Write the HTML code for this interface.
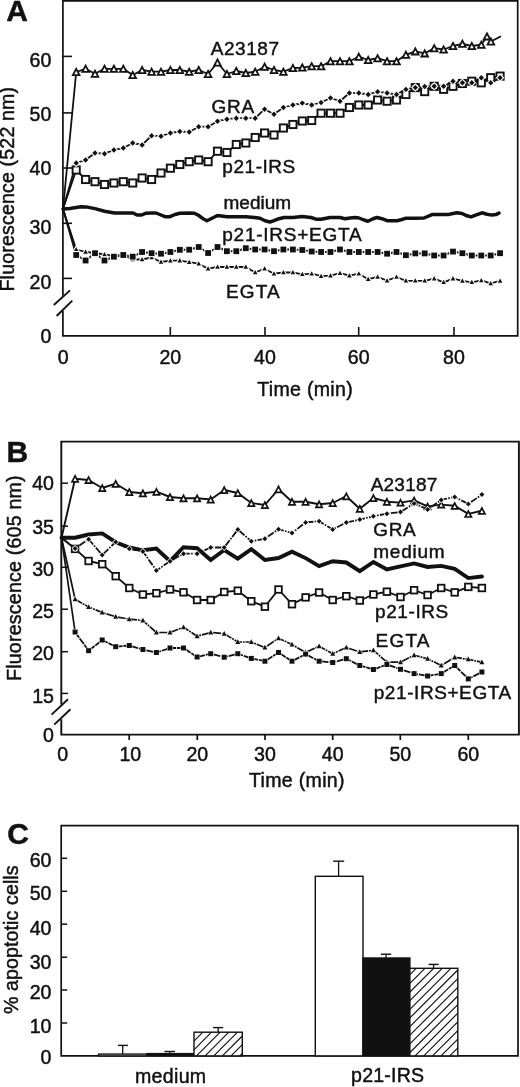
<!DOCTYPE html>
<html><head><meta charset="utf-8"><title>Figure</title>
<style>
html,body{margin:0;padding:0;background:#fff;}
text{stroke:#111;stroke-width:0.45px;}
svg{display:block;will-change:transform;font-family:"Liberation Sans",sans-serif;fill:#111;}
</style></head>
<body>
<svg width="520" height="1087" viewBox="0 0 520 1087">
<rect width="520" height="1087" fill="#fff"/>
<g id="A">
<path d="M62.9,295.8 V0.9 H517.7 V335.9 H62.9 V311" fill="none" stroke="#111" stroke-width="1.7" stroke-linejoin="miter"/>
<line x1="53.8" y1="305.0" x2="70.0" y2="290.4" stroke="#111" stroke-width="1.9"/>
<line x1="56.6" y1="316.0" x2="72.3" y2="300.6" stroke="#111" stroke-width="1.9"/>
<line x1="62.9" y1="56.4" x2="72.0" y2="56.4" stroke="#111" stroke-width="1.6"/>
<line x1="62.9" y1="112.9" x2="72.0" y2="112.9" stroke="#111" stroke-width="1.6"/>
<line x1="62.9" y1="168.0" x2="72.0" y2="168.0" stroke="#111" stroke-width="1.6"/>
<line x1="62.9" y1="223.3" x2="72.0" y2="223.3" stroke="#111" stroke-width="1.6"/>
<line x1="62.9" y1="278.4" x2="72.0" y2="278.4" stroke="#111" stroke-width="1.6"/>
<line x1="170.3" y1="335.9" x2="170.3" y2="327.0" stroke="#111" stroke-width="1.6"/>
<line x1="265.0" y1="335.9" x2="265.0" y2="327.0" stroke="#111" stroke-width="1.6"/>
<line x1="358.7" y1="335.9" x2="358.7" y2="327.0" stroke="#111" stroke-width="1.6"/>
<line x1="454.0" y1="335.9" x2="454.0" y2="327.0" stroke="#111" stroke-width="1.6"/>
<text transform="translate(51.3 66.8) scale(1 1.04)" font-size="19.6" text-anchor="end">60</text>
<text transform="translate(51.3 120.8) scale(1 1.04)" font-size="19.6" text-anchor="end">50</text>
<text transform="translate(51.3 175.4) scale(1 1.04)" font-size="19.6" text-anchor="end">40</text>
<text transform="translate(51.3 233.5) scale(1 1.04)" font-size="19.6" text-anchor="end">30</text>
<text transform="translate(51.3 288.5) scale(1 1.04)" font-size="19.6" text-anchor="end">20</text>
<text transform="translate(51.3 343.3) scale(1 1.04)" font-size="19.6" text-anchor="end">0</text>
<text transform="translate(63.3 364.2) scale(1 1.04)" font-size="19.6" text-anchor="middle">0</text>
<text transform="translate(170.3 364.2) scale(1 1.04)" font-size="19.6" text-anchor="middle">20</text>
<text transform="translate(265.0 364.2) scale(1 1.04)" font-size="19.6" text-anchor="middle">40</text>
<text transform="translate(358.7 364.2) scale(1 1.04)" font-size="19.6" text-anchor="middle">60</text>
<text transform="translate(454.0 364.2) scale(1 1.04)" font-size="19.6" text-anchor="middle">80</text>
<text transform="translate(305.0 395.8) scale(1 1.04)" font-size="19.6" text-anchor="middle" textLength="95.4" lengthAdjust="spacing">Time (min)</text>
<text transform="translate(14.3 291.5) rotate(-90) scale(1 1.04)" font-size="19.6" text-anchor="start" textLength="204.6" lengthAdjust="spacing">Fluorescence (522 nm)</text>
<text transform="translate(6.2 21.4) scale(1 1.0)" font-size="30" text-anchor="start" font-weight="bold">A</text>
<polyline points="63.0,209.0 76.2,72.0 85.6,68.8 95.0,73.8 104.5,68.8 113.9,68.8 123.3,68.8 132.7,75.0 142.1,70.0 151.6,71.7 161.0,71.7 170.4,70.0 179.8,70.0 189.2,71.7 198.7,70.0 208.1,74.0 217.5,62.5 226.9,74.0 236.3,71.0 245.8,73.0 255.2,71.7 264.6,66.7 274.0,70.0 283.4,71.7 292.9,68.0 302.3,67.6 311.7,66.2 321.1,66.2 330.5,61.2 340.0,61.2 349.4,61.2 358.8,56.7 368.2,60.0 377.6,58.2 387.1,61.2 396.5,61.2 405.9,54.8 415.3,51.4 424.7,53.4 434.2,48.2 443.6,49.5 453.0,46.0 462.4,43.8 471.8,46.0 481.3,44.7 487.0,36.4 490.9,41.5 501.0,36.2" fill="none" stroke="#111" stroke-width="1.8" stroke-linejoin="round" stroke-linecap="butt"/>
<polyline points="63.0,209.0 76.2,170.0 85.6,179.5 95.0,181.7 104.5,184.5 113.9,183.0 123.3,181.7 132.7,183.0 142.1,178.0 151.6,179.5 161.0,173.0 170.4,168.2 179.8,164.5 189.2,161.7 198.7,160.0 208.1,161.7 217.5,151.2 226.9,152.5 236.3,144.5 245.8,143.0 255.2,137.5 264.6,133.0 274.0,135.0 283.4,128.0 292.9,124.5 302.3,121.0 311.7,120.5 321.1,113.2 330.5,113.2 340.0,113.2 349.4,107.5 358.8,105.0 368.2,105.0 377.6,100.0 387.1,101.2 396.5,100.0 405.9,94.5 415.3,87.6 424.7,91.6 434.2,86.3 443.6,89.3 453.0,86.3 462.4,83.5 471.8,81.2 481.3,82.8 490.7,77.7 500.1,76.1" fill="none" stroke="#111" stroke-width="1.8" stroke-linejoin="round" stroke-linecap="butt"/>
<polyline points="63.0,209.0 76.2,163.0 85.6,160.0 95.0,153.0 104.5,153.7 113.9,150.0 123.3,148.0 132.7,143.0 142.1,145.0 151.6,135.7 161.0,136.2 170.4,133.0 179.8,131.5 189.2,132.0 198.7,126.7 208.1,126.7 217.5,121.2 226.9,119.2 236.3,118.2 245.8,118.2 255.2,118.2 264.6,109.2 274.0,114.2 283.4,107.5 292.9,105.0 302.3,103.1 311.7,105.0 321.1,102.5 330.5,98.0 340.0,101.2 349.4,93.0 358.8,93.0 368.2,94.5 377.6,91.7 387.1,93.0 396.5,94.5 405.9,89.4 415.3,87.6 424.7,86.5 434.2,86.3 443.6,86.3 453.0,81.2 462.4,82.8 471.8,82.8 481.3,77.7 490.7,82.8 500.1,77.7" fill="none" stroke="#111" stroke-width="1.8" stroke-linejoin="round" stroke-linecap="butt"/>
<polyline points="63.0,208.9 70.0,208.6 76.0,207.6 81.0,206.7 86.0,206.9 95.0,208.6 104.5,211.2 114.5,213.0 123.0,213.0 133.0,213.0 137.0,215.0 141.7,215.0 146.0,213.2 151.0,213.0 156.0,213.0 161.0,215.0 165.0,216.7 170.0,216.7 175.0,214.5 180.0,213.2 189.5,213.0 194.0,213.2 198.0,215.0 203.0,218.7 207.0,220.7 211.0,218.7 217.5,215.5 227.0,216.7 236.0,216.7 246.0,216.7 254.5,217.5 260.0,218.2 265.0,220.7 270.0,222.0 274.0,220.7 279.0,218.7 284.0,217.5 293.0,217.5 302.0,216.6 311.0,217.5 316.0,219.2 321.0,219.2 330.0,217.5 340.0,217.5 345.0,218.7 350.0,218.0 355.0,217.5 359.0,218.0 364.0,220.0 368.0,221.2 373.0,218.7 377.0,217.5 382.0,218.7 387.0,220.7 397.0,220.7 402.0,219.5 406.0,218.2 415.0,218.2 424.0,218.0 432.0,214.6 448.0,214.6 453.0,213.5 457.0,212.8 462.0,213.5 467.0,215.8 471.0,216.9 477.0,214.6 482.0,212.8 487.0,214.2 492.0,215.1 496.0,214.6 499.0,213.0" fill="none" stroke="#111" stroke-width="3.5" stroke-linejoin="round" stroke-linecap="round"/>
<polyline points="63.0,209.0 76.2,249.5 85.6,252.0 95.0,253.0 104.5,254.5 113.9,256.0 123.3,255.0 132.7,259.5 142.1,259.5 151.6,257.5 161.0,262.0 170.4,260.7 179.8,260.6 189.2,262.2 198.7,263.7 208.1,268.7 217.5,267.0 226.9,267.0 236.3,267.0 245.8,267.0 255.2,272.5 264.6,268.7 274.0,273.7 283.4,272.5 292.9,272.5 302.3,274.3 311.7,273.7 321.1,276.2 330.5,275.7 340.0,273.2 349.4,275.7 358.8,273.7 368.2,279.2 377.6,277.0 387.1,280.7 396.5,277.0 405.9,280.8 415.3,280.8 424.7,280.8 434.2,278.6 443.6,282.3 453.0,278.6 462.4,280.9 471.8,282.3 481.3,280.4 490.7,283.4 500.1,280.9" fill="none" stroke="#111" stroke-width="1.8" stroke-linejoin="round" stroke-linecap="butt"/>
<polyline points="63.0,209.0 76.2,255.0 85.6,260.5 95.0,253.2 104.5,260.5 113.9,256.7 123.3,255.0 132.7,256.7 142.1,252.0 151.6,253.2 161.0,253.7 170.4,252.0 179.8,249.8 189.2,249.7 198.7,247.0 208.1,253.0 217.5,247.0 226.9,251.2 236.3,251.2 245.8,248.2 255.2,249.5 264.6,249.5 274.0,251.2 283.4,249.5 292.9,249.5 302.3,250.0 311.7,251.5 321.1,252.0 330.5,252.0 340.0,249.5 349.4,252.0 358.8,252.0 368.2,252.0 377.6,252.0 387.1,253.7 396.5,252.0 405.9,255.2 415.3,253.4 424.7,253.4 434.2,255.5 443.6,255.5 453.0,251.6 462.4,253.2 471.8,255.5 481.3,255.5 490.7,255.5 500.1,253.2" fill="none" stroke="#111" stroke-width="2.0" stroke-linejoin="round" stroke-linecap="butt"/>
<polygon points="76.2,68.9 72.9,75.1 79.5,75.1" fill="#fff" stroke="#111" stroke-width="1.8" stroke-linejoin="miter"/>
<polygon points="85.6,65.7 82.3,71.9 88.9,71.9" fill="#fff" stroke="#111" stroke-width="1.8" stroke-linejoin="miter"/>
<polygon points="95.0,70.7 91.7,76.9 98.3,76.9" fill="#fff" stroke="#111" stroke-width="1.8" stroke-linejoin="miter"/>
<polygon points="104.5,65.7 101.2,71.9 107.8,71.9" fill="#fff" stroke="#111" stroke-width="1.8" stroke-linejoin="miter"/>
<polygon points="113.9,65.7 110.6,71.9 117.2,71.9" fill="#fff" stroke="#111" stroke-width="1.8" stroke-linejoin="miter"/>
<polygon points="123.3,65.7 120.0,71.9 126.6,71.9" fill="#fff" stroke="#111" stroke-width="1.8" stroke-linejoin="miter"/>
<polygon points="132.7,71.9 129.4,78.1 136.0,78.1" fill="#fff" stroke="#111" stroke-width="1.8" stroke-linejoin="miter"/>
<polygon points="142.1,66.9 138.8,73.1 145.4,73.1" fill="#fff" stroke="#111" stroke-width="1.8" stroke-linejoin="miter"/>
<polygon points="151.6,68.6 148.3,74.8 154.9,74.8" fill="#fff" stroke="#111" stroke-width="1.8" stroke-linejoin="miter"/>
<polygon points="161.0,68.6 157.7,74.8 164.3,74.8" fill="#fff" stroke="#111" stroke-width="1.8" stroke-linejoin="miter"/>
<polygon points="170.4,66.9 167.1,73.1 173.7,73.1" fill="#fff" stroke="#111" stroke-width="1.8" stroke-linejoin="miter"/>
<polygon points="179.8,66.9 176.5,73.1 183.1,73.1" fill="#fff" stroke="#111" stroke-width="1.8" stroke-linejoin="miter"/>
<polygon points="189.2,68.6 185.9,74.8 192.5,74.8" fill="#fff" stroke="#111" stroke-width="1.8" stroke-linejoin="miter"/>
<polygon points="198.7,66.9 195.4,73.1 202.0,73.1" fill="#fff" stroke="#111" stroke-width="1.8" stroke-linejoin="miter"/>
<polygon points="208.1,70.9 204.8,77.1 211.4,77.1" fill="#fff" stroke="#111" stroke-width="1.8" stroke-linejoin="miter"/>
<polygon points="217.5,59.4 214.2,65.6 220.8,65.6" fill="#fff" stroke="#111" stroke-width="1.8" stroke-linejoin="miter"/>
<polygon points="226.9,70.9 223.6,77.1 230.2,77.1" fill="#fff" stroke="#111" stroke-width="1.8" stroke-linejoin="miter"/>
<polygon points="236.3,67.9 233.0,74.1 239.6,74.1" fill="#fff" stroke="#111" stroke-width="1.8" stroke-linejoin="miter"/>
<polygon points="245.8,69.9 242.5,76.1 249.1,76.1" fill="#fff" stroke="#111" stroke-width="1.8" stroke-linejoin="miter"/>
<polygon points="255.2,68.6 251.9,74.8 258.5,74.8" fill="#fff" stroke="#111" stroke-width="1.8" stroke-linejoin="miter"/>
<polygon points="264.6,63.6 261.3,69.8 267.9,69.8" fill="#fff" stroke="#111" stroke-width="1.8" stroke-linejoin="miter"/>
<polygon points="274.0,66.9 270.7,73.1 277.3,73.1" fill="#fff" stroke="#111" stroke-width="1.8" stroke-linejoin="miter"/>
<polygon points="283.4,68.6 280.1,74.8 286.7,74.8" fill="#fff" stroke="#111" stroke-width="1.8" stroke-linejoin="miter"/>
<polygon points="292.9,64.9 289.6,71.1 296.2,71.1" fill="#fff" stroke="#111" stroke-width="1.8" stroke-linejoin="miter"/>
<polygon points="302.3,64.5 299.0,70.7 305.6,70.7" fill="#fff" stroke="#111" stroke-width="1.8" stroke-linejoin="miter"/>
<polygon points="311.7,63.1 308.4,69.3 315.0,69.3" fill="#fff" stroke="#111" stroke-width="1.8" stroke-linejoin="miter"/>
<polygon points="321.1,63.1 317.8,69.3 324.4,69.3" fill="#fff" stroke="#111" stroke-width="1.8" stroke-linejoin="miter"/>
<polygon points="330.5,58.1 327.2,64.3 333.8,64.3" fill="#fff" stroke="#111" stroke-width="1.8" stroke-linejoin="miter"/>
<polygon points="340.0,58.1 336.7,64.3 343.3,64.3" fill="#fff" stroke="#111" stroke-width="1.8" stroke-linejoin="miter"/>
<polygon points="349.4,58.1 346.1,64.3 352.7,64.3" fill="#fff" stroke="#111" stroke-width="1.8" stroke-linejoin="miter"/>
<polygon points="358.8,53.6 355.5,59.8 362.1,59.8" fill="#fff" stroke="#111" stroke-width="1.8" stroke-linejoin="miter"/>
<polygon points="368.2,56.9 364.9,63.1 371.5,63.1" fill="#fff" stroke="#111" stroke-width="1.8" stroke-linejoin="miter"/>
<polygon points="377.6,55.1 374.3,61.3 380.9,61.3" fill="#fff" stroke="#111" stroke-width="1.8" stroke-linejoin="miter"/>
<polygon points="387.1,58.1 383.8,64.3 390.4,64.3" fill="#fff" stroke="#111" stroke-width="1.8" stroke-linejoin="miter"/>
<polygon points="396.5,58.1 393.2,64.3 399.8,64.3" fill="#fff" stroke="#111" stroke-width="1.8" stroke-linejoin="miter"/>
<polygon points="405.9,51.7 402.6,57.9 409.2,57.9" fill="#fff" stroke="#111" stroke-width="1.8" stroke-linejoin="miter"/>
<polygon points="415.3,48.3 412.0,54.5 418.6,54.5" fill="#fff" stroke="#111" stroke-width="1.8" stroke-linejoin="miter"/>
<polygon points="424.7,50.3 421.4,56.5 428.0,56.5" fill="#fff" stroke="#111" stroke-width="1.8" stroke-linejoin="miter"/>
<polygon points="434.2,45.1 430.9,51.3 437.5,51.3" fill="#fff" stroke="#111" stroke-width="1.8" stroke-linejoin="miter"/>
<polygon points="443.6,46.4 440.3,52.6 446.9,52.6" fill="#fff" stroke="#111" stroke-width="1.8" stroke-linejoin="miter"/>
<polygon points="453.0,42.9 449.7,49.1 456.3,49.1" fill="#fff" stroke="#111" stroke-width="1.8" stroke-linejoin="miter"/>
<polygon points="462.4,40.7 459.1,46.9 465.7,46.9" fill="#fff" stroke="#111" stroke-width="1.8" stroke-linejoin="miter"/>
<polygon points="471.8,42.9 468.5,49.1 475.1,49.1" fill="#fff" stroke="#111" stroke-width="1.8" stroke-linejoin="miter"/>
<polygon points="481.3,41.6 478.0,47.8 484.6,47.8" fill="#fff" stroke="#111" stroke-width="1.8" stroke-linejoin="miter"/>
<polygon points="487.0,33.3 483.7,39.5 490.3,39.5" fill="#fff" stroke="#111" stroke-width="1.8" stroke-linejoin="miter"/>
<polygon points="490.9,38.4 487.6,44.6 494.2,44.6" fill="#fff" stroke="#111" stroke-width="1.8" stroke-linejoin="miter"/>
<rect x="72.6" y="166.4" width="7.2" height="7.2" fill="#fff" stroke="#111" stroke-width="1.9"/>
<rect x="82.0" y="175.9" width="7.2" height="7.2" fill="#fff" stroke="#111" stroke-width="1.9"/>
<rect x="91.4" y="178.1" width="7.2" height="7.2" fill="#fff" stroke="#111" stroke-width="1.9"/>
<rect x="100.9" y="180.9" width="7.2" height="7.2" fill="#fff" stroke="#111" stroke-width="1.9"/>
<rect x="110.3" y="179.4" width="7.2" height="7.2" fill="#fff" stroke="#111" stroke-width="1.9"/>
<rect x="119.7" y="178.1" width="7.2" height="7.2" fill="#fff" stroke="#111" stroke-width="1.9"/>
<rect x="129.1" y="179.4" width="7.2" height="7.2" fill="#fff" stroke="#111" stroke-width="1.9"/>
<rect x="138.5" y="174.4" width="7.2" height="7.2" fill="#fff" stroke="#111" stroke-width="1.9"/>
<rect x="148.0" y="175.9" width="7.2" height="7.2" fill="#fff" stroke="#111" stroke-width="1.9"/>
<rect x="157.4" y="169.4" width="7.2" height="7.2" fill="#fff" stroke="#111" stroke-width="1.9"/>
<rect x="166.8" y="164.6" width="7.2" height="7.2" fill="#fff" stroke="#111" stroke-width="1.9"/>
<rect x="176.2" y="160.9" width="7.2" height="7.2" fill="#fff" stroke="#111" stroke-width="1.9"/>
<rect x="185.6" y="158.1" width="7.2" height="7.2" fill="#fff" stroke="#111" stroke-width="1.9"/>
<rect x="195.1" y="156.4" width="7.2" height="7.2" fill="#fff" stroke="#111" stroke-width="1.9"/>
<rect x="204.5" y="158.1" width="7.2" height="7.2" fill="#fff" stroke="#111" stroke-width="1.9"/>
<rect x="213.9" y="147.6" width="7.2" height="7.2" fill="#fff" stroke="#111" stroke-width="1.9"/>
<rect x="223.3" y="148.9" width="7.2" height="7.2" fill="#fff" stroke="#111" stroke-width="1.9"/>
<rect x="232.7" y="140.9" width="7.2" height="7.2" fill="#fff" stroke="#111" stroke-width="1.9"/>
<rect x="242.2" y="139.4" width="7.2" height="7.2" fill="#fff" stroke="#111" stroke-width="1.9"/>
<rect x="251.6" y="133.9" width="7.2" height="7.2" fill="#fff" stroke="#111" stroke-width="1.9"/>
<rect x="261.0" y="129.4" width="7.2" height="7.2" fill="#fff" stroke="#111" stroke-width="1.9"/>
<rect x="270.4" y="131.4" width="7.2" height="7.2" fill="#fff" stroke="#111" stroke-width="1.9"/>
<rect x="279.8" y="124.4" width="7.2" height="7.2" fill="#fff" stroke="#111" stroke-width="1.9"/>
<rect x="289.3" y="120.9" width="7.2" height="7.2" fill="#fff" stroke="#111" stroke-width="1.9"/>
<rect x="298.7" y="117.4" width="7.2" height="7.2" fill="#fff" stroke="#111" stroke-width="1.9"/>
<rect x="308.1" y="116.9" width="7.2" height="7.2" fill="#fff" stroke="#111" stroke-width="1.9"/>
<rect x="317.5" y="109.6" width="7.2" height="7.2" fill="#fff" stroke="#111" stroke-width="1.9"/>
<rect x="326.9" y="109.6" width="7.2" height="7.2" fill="#fff" stroke="#111" stroke-width="1.9"/>
<rect x="336.4" y="109.6" width="7.2" height="7.2" fill="#fff" stroke="#111" stroke-width="1.9"/>
<rect x="345.8" y="103.9" width="7.2" height="7.2" fill="#fff" stroke="#111" stroke-width="1.9"/>
<rect x="355.2" y="101.4" width="7.2" height="7.2" fill="#fff" stroke="#111" stroke-width="1.9"/>
<rect x="364.6" y="101.4" width="7.2" height="7.2" fill="#fff" stroke="#111" stroke-width="1.9"/>
<rect x="374.0" y="96.4" width="7.2" height="7.2" fill="#fff" stroke="#111" stroke-width="1.9"/>
<rect x="383.5" y="97.6" width="7.2" height="7.2" fill="#fff" stroke="#111" stroke-width="1.9"/>
<rect x="392.9" y="96.4" width="7.2" height="7.2" fill="#fff" stroke="#111" stroke-width="1.9"/>
<rect x="402.3" y="90.9" width="7.2" height="7.2" fill="#fff" stroke="#111" stroke-width="1.9"/>
<rect x="411.7" y="84.0" width="7.2" height="7.2" fill="#fff" stroke="#111" stroke-width="1.9"/>
<rect x="421.1" y="88.0" width="7.2" height="7.2" fill="#fff" stroke="#111" stroke-width="1.9"/>
<rect x="430.6" y="82.7" width="7.2" height="7.2" fill="#fff" stroke="#111" stroke-width="1.9"/>
<rect x="440.0" y="85.7" width="7.2" height="7.2" fill="#fff" stroke="#111" stroke-width="1.9"/>
<rect x="449.4" y="82.7" width="7.2" height="7.2" fill="#fff" stroke="#111" stroke-width="1.9"/>
<rect x="458.8" y="79.9" width="7.2" height="7.2" fill="#fff" stroke="#111" stroke-width="1.9"/>
<rect x="468.2" y="77.6" width="7.2" height="7.2" fill="#fff" stroke="#111" stroke-width="1.9"/>
<rect x="477.7" y="79.2" width="7.2" height="7.2" fill="#fff" stroke="#111" stroke-width="1.9"/>
<rect x="487.1" y="74.1" width="7.2" height="7.2" fill="#fff" stroke="#111" stroke-width="1.9"/>
<rect x="496.5" y="72.5" width="7.2" height="7.2" fill="#fff" stroke="#111" stroke-width="1.9"/>
<polygon points="76.2,160.3 78.9,163.0 76.2,165.7 73.5,163.0" fill="#111" stroke="#fff" stroke-width="2.2" paint-order="stroke"/>
<polygon points="85.6,157.3 88.3,160.0 85.6,162.7 82.9,160.0" fill="#111" stroke="#fff" stroke-width="2.2" paint-order="stroke"/>
<polygon points="95.0,150.3 97.7,153.0 95.0,155.7 92.3,153.0" fill="#111" stroke="#fff" stroke-width="2.2" paint-order="stroke"/>
<polygon points="104.5,151.0 107.2,153.7 104.5,156.4 101.8,153.7" fill="#111" stroke="#fff" stroke-width="2.2" paint-order="stroke"/>
<polygon points="113.9,147.3 116.6,150.0 113.9,152.7 111.2,150.0" fill="#111" stroke="#fff" stroke-width="2.2" paint-order="stroke"/>
<polygon points="123.3,145.3 126.0,148.0 123.3,150.7 120.6,148.0" fill="#111" stroke="#fff" stroke-width="2.2" paint-order="stroke"/>
<polygon points="132.7,140.3 135.4,143.0 132.7,145.7 130.0,143.0" fill="#111" stroke="#fff" stroke-width="2.2" paint-order="stroke"/>
<polygon points="142.1,142.3 144.8,145.0 142.1,147.7 139.4,145.0" fill="#111" stroke="#fff" stroke-width="2.2" paint-order="stroke"/>
<polygon points="151.6,133.0 154.3,135.7 151.6,138.4 148.9,135.7" fill="#111" stroke="#fff" stroke-width="2.2" paint-order="stroke"/>
<polygon points="161.0,133.5 163.7,136.2 161.0,138.9 158.3,136.2" fill="#111" stroke="#fff" stroke-width="2.2" paint-order="stroke"/>
<polygon points="170.4,130.3 173.1,133.0 170.4,135.7 167.7,133.0" fill="#111" stroke="#fff" stroke-width="2.2" paint-order="stroke"/>
<polygon points="179.8,128.8 182.5,131.5 179.8,134.2 177.1,131.5" fill="#111" stroke="#fff" stroke-width="2.2" paint-order="stroke"/>
<polygon points="189.2,129.3 191.9,132.0 189.2,134.7 186.5,132.0" fill="#111" stroke="#fff" stroke-width="2.2" paint-order="stroke"/>
<polygon points="198.7,124.0 201.4,126.7 198.7,129.4 196.0,126.7" fill="#111" stroke="#fff" stroke-width="2.2" paint-order="stroke"/>
<polygon points="208.1,124.0 210.8,126.7 208.1,129.4 205.4,126.7" fill="#111" stroke="#fff" stroke-width="2.2" paint-order="stroke"/>
<polygon points="217.5,118.5 220.2,121.2 217.5,123.9 214.8,121.2" fill="#111" stroke="#fff" stroke-width="2.2" paint-order="stroke"/>
<polygon points="226.9,116.5 229.6,119.2 226.9,121.9 224.2,119.2" fill="#111" stroke="#fff" stroke-width="2.2" paint-order="stroke"/>
<polygon points="236.3,115.5 239.0,118.2 236.3,120.9 233.6,118.2" fill="#111" stroke="#fff" stroke-width="2.2" paint-order="stroke"/>
<polygon points="245.8,115.5 248.5,118.2 245.8,120.9 243.1,118.2" fill="#111" stroke="#fff" stroke-width="2.2" paint-order="stroke"/>
<polygon points="255.2,115.5 257.9,118.2 255.2,120.9 252.5,118.2" fill="#111" stroke="#fff" stroke-width="2.2" paint-order="stroke"/>
<polygon points="264.6,106.5 267.3,109.2 264.6,111.9 261.9,109.2" fill="#111" stroke="#fff" stroke-width="2.2" paint-order="stroke"/>
<polygon points="274.0,111.5 276.7,114.2 274.0,116.9 271.3,114.2" fill="#111" stroke="#fff" stroke-width="2.2" paint-order="stroke"/>
<polygon points="283.4,104.8 286.1,107.5 283.4,110.2 280.7,107.5" fill="#111" stroke="#fff" stroke-width="2.2" paint-order="stroke"/>
<polygon points="292.9,102.3 295.6,105.0 292.9,107.7 290.2,105.0" fill="#111" stroke="#fff" stroke-width="2.2" paint-order="stroke"/>
<polygon points="302.3,100.4 305.0,103.1 302.3,105.8 299.6,103.1" fill="#111" stroke="#fff" stroke-width="2.2" paint-order="stroke"/>
<polygon points="311.7,102.3 314.4,105.0 311.7,107.7 309.0,105.0" fill="#111" stroke="#fff" stroke-width="2.2" paint-order="stroke"/>
<polygon points="321.1,99.8 323.8,102.5 321.1,105.2 318.4,102.5" fill="#111" stroke="#fff" stroke-width="2.2" paint-order="stroke"/>
<polygon points="330.5,95.3 333.2,98.0 330.5,100.7 327.8,98.0" fill="#111" stroke="#fff" stroke-width="2.2" paint-order="stroke"/>
<polygon points="340.0,98.5 342.7,101.2 340.0,103.9 337.3,101.2" fill="#111" stroke="#fff" stroke-width="2.2" paint-order="stroke"/>
<polygon points="349.4,90.3 352.1,93.0 349.4,95.7 346.7,93.0" fill="#111" stroke="#fff" stroke-width="2.2" paint-order="stroke"/>
<polygon points="358.8,90.3 361.5,93.0 358.8,95.7 356.1,93.0" fill="#111" stroke="#fff" stroke-width="2.2" paint-order="stroke"/>
<polygon points="368.2,91.8 370.9,94.5 368.2,97.2 365.5,94.5" fill="#111" stroke="#fff" stroke-width="2.2" paint-order="stroke"/>
<polygon points="377.6,89.0 380.3,91.7 377.6,94.4 374.9,91.7" fill="#111" stroke="#fff" stroke-width="2.2" paint-order="stroke"/>
<polygon points="387.1,90.3 389.8,93.0 387.1,95.7 384.4,93.0" fill="#111" stroke="#fff" stroke-width="2.2" paint-order="stroke"/>
<polygon points="396.5,91.8 399.2,94.5 396.5,97.2 393.8,94.5" fill="#111" stroke="#fff" stroke-width="2.2" paint-order="stroke"/>
<polygon points="405.9,86.7 408.6,89.4 405.9,92.1 403.2,89.4" fill="#111" stroke="#fff" stroke-width="2.2" paint-order="stroke"/>
<polygon points="415.3,84.9 418.0,87.6 415.3,90.3 412.6,87.6" fill="#111" stroke="#fff" stroke-width="2.2" paint-order="stroke"/>
<polygon points="424.7,83.8 427.4,86.5 424.7,89.2 422.0,86.5" fill="#111" stroke="#fff" stroke-width="2.2" paint-order="stroke"/>
<polygon points="434.2,83.6 436.9,86.3 434.2,89.0 431.5,86.3" fill="#111" stroke="#fff" stroke-width="2.2" paint-order="stroke"/>
<polygon points="443.6,83.6 446.3,86.3 443.6,89.0 440.9,86.3" fill="#111" stroke="#fff" stroke-width="2.2" paint-order="stroke"/>
<polygon points="453.0,78.5 455.7,81.2 453.0,83.9 450.3,81.2" fill="#111" stroke="#fff" stroke-width="2.2" paint-order="stroke"/>
<polygon points="462.4,80.1 465.1,82.8 462.4,85.5 459.7,82.8" fill="#111" stroke="#fff" stroke-width="2.2" paint-order="stroke"/>
<polygon points="471.8,80.1 474.5,82.8 471.8,85.5 469.1,82.8" fill="#111" stroke="#fff" stroke-width="2.2" paint-order="stroke"/>
<polygon points="481.3,75.0 484.0,77.7 481.3,80.4 478.6,77.7" fill="#111" stroke="#fff" stroke-width="2.2" paint-order="stroke"/>
<polygon points="490.7,80.1 493.4,82.8 490.7,85.5 488.0,82.8" fill="#111" stroke="#fff" stroke-width="2.2" paint-order="stroke"/>
<polygon points="500.1,75.0 502.8,77.7 500.1,80.4 497.4,77.7" fill="#111" stroke="#fff" stroke-width="2.2" paint-order="stroke"/>
<polygon points="76.2,247.0 73.9,251.3 78.5,251.3" fill="#111" stroke="#fff" stroke-width="2.2" paint-order="stroke"/>
<polygon points="85.6,249.5 83.3,253.8 87.9,253.8" fill="#111" stroke="#fff" stroke-width="2.2" paint-order="stroke"/>
<polygon points="95.0,250.5 92.7,254.8 97.3,254.8" fill="#111" stroke="#fff" stroke-width="2.2" paint-order="stroke"/>
<polygon points="104.5,252.0 102.2,256.3 106.8,256.3" fill="#111" stroke="#fff" stroke-width="2.2" paint-order="stroke"/>
<polygon points="113.9,253.5 111.6,257.8 116.2,257.8" fill="#111" stroke="#fff" stroke-width="2.2" paint-order="stroke"/>
<polygon points="123.3,252.5 121.0,256.8 125.6,256.8" fill="#111" stroke="#fff" stroke-width="2.2" paint-order="stroke"/>
<polygon points="132.7,257.0 130.4,261.3 135.0,261.3" fill="#111" stroke="#fff" stroke-width="2.2" paint-order="stroke"/>
<polygon points="142.1,257.0 139.8,261.3 144.4,261.3" fill="#111" stroke="#fff" stroke-width="2.2" paint-order="stroke"/>
<polygon points="151.6,255.0 149.3,259.3 153.9,259.3" fill="#111" stroke="#fff" stroke-width="2.2" paint-order="stroke"/>
<polygon points="161.0,259.5 158.7,263.8 163.3,263.8" fill="#111" stroke="#fff" stroke-width="2.2" paint-order="stroke"/>
<polygon points="170.4,258.2 168.1,262.5 172.7,262.5" fill="#111" stroke="#fff" stroke-width="2.2" paint-order="stroke"/>
<polygon points="179.8,258.1 177.5,262.4 182.1,262.4" fill="#111" stroke="#fff" stroke-width="2.2" paint-order="stroke"/>
<polygon points="189.2,259.7 186.9,264.0 191.5,264.0" fill="#111" stroke="#fff" stroke-width="2.2" paint-order="stroke"/>
<polygon points="198.7,261.2 196.4,265.5 201.0,265.5" fill="#111" stroke="#fff" stroke-width="2.2" paint-order="stroke"/>
<polygon points="208.1,266.2 205.8,270.5 210.4,270.5" fill="#111" stroke="#fff" stroke-width="2.2" paint-order="stroke"/>
<polygon points="217.5,264.5 215.2,268.8 219.8,268.8" fill="#111" stroke="#fff" stroke-width="2.2" paint-order="stroke"/>
<polygon points="226.9,264.5 224.6,268.8 229.2,268.8" fill="#111" stroke="#fff" stroke-width="2.2" paint-order="stroke"/>
<polygon points="236.3,264.5 234.0,268.8 238.6,268.8" fill="#111" stroke="#fff" stroke-width="2.2" paint-order="stroke"/>
<polygon points="245.8,264.5 243.5,268.8 248.1,268.8" fill="#111" stroke="#fff" stroke-width="2.2" paint-order="stroke"/>
<polygon points="255.2,270.0 252.9,274.3 257.5,274.3" fill="#111" stroke="#fff" stroke-width="2.2" paint-order="stroke"/>
<polygon points="264.6,266.2 262.3,270.5 266.9,270.5" fill="#111" stroke="#fff" stroke-width="2.2" paint-order="stroke"/>
<polygon points="274.0,271.2 271.7,275.5 276.3,275.5" fill="#111" stroke="#fff" stroke-width="2.2" paint-order="stroke"/>
<polygon points="283.4,270.0 281.1,274.3 285.7,274.3" fill="#111" stroke="#fff" stroke-width="2.2" paint-order="stroke"/>
<polygon points="292.9,270.0 290.6,274.3 295.2,274.3" fill="#111" stroke="#fff" stroke-width="2.2" paint-order="stroke"/>
<polygon points="302.3,271.8 300.0,276.1 304.6,276.1" fill="#111" stroke="#fff" stroke-width="2.2" paint-order="stroke"/>
<polygon points="311.7,271.2 309.4,275.5 314.0,275.5" fill="#111" stroke="#fff" stroke-width="2.2" paint-order="stroke"/>
<polygon points="321.1,273.7 318.8,278.0 323.4,278.0" fill="#111" stroke="#fff" stroke-width="2.2" paint-order="stroke"/>
<polygon points="330.5,273.2 328.2,277.5 332.8,277.5" fill="#111" stroke="#fff" stroke-width="2.2" paint-order="stroke"/>
<polygon points="340.0,270.7 337.7,275.0 342.3,275.0" fill="#111" stroke="#fff" stroke-width="2.2" paint-order="stroke"/>
<polygon points="349.4,273.2 347.1,277.5 351.7,277.5" fill="#111" stroke="#fff" stroke-width="2.2" paint-order="stroke"/>
<polygon points="358.8,271.2 356.5,275.5 361.1,275.5" fill="#111" stroke="#fff" stroke-width="2.2" paint-order="stroke"/>
<polygon points="368.2,276.7 365.9,281.0 370.5,281.0" fill="#111" stroke="#fff" stroke-width="2.2" paint-order="stroke"/>
<polygon points="377.6,274.5 375.3,278.8 379.9,278.8" fill="#111" stroke="#fff" stroke-width="2.2" paint-order="stroke"/>
<polygon points="387.1,278.2 384.8,282.5 389.4,282.5" fill="#111" stroke="#fff" stroke-width="2.2" paint-order="stroke"/>
<polygon points="396.5,274.5 394.2,278.8 398.8,278.8" fill="#111" stroke="#fff" stroke-width="2.2" paint-order="stroke"/>
<polygon points="405.9,278.3 403.6,282.6 408.2,282.6" fill="#111" stroke="#fff" stroke-width="2.2" paint-order="stroke"/>
<polygon points="415.3,278.3 413.0,282.6 417.6,282.6" fill="#111" stroke="#fff" stroke-width="2.2" paint-order="stroke"/>
<polygon points="424.7,278.3 422.4,282.6 427.0,282.6" fill="#111" stroke="#fff" stroke-width="2.2" paint-order="stroke"/>
<polygon points="434.2,276.1 431.9,280.4 436.5,280.4" fill="#111" stroke="#fff" stroke-width="2.2" paint-order="stroke"/>
<polygon points="443.6,279.8 441.3,284.1 445.9,284.1" fill="#111" stroke="#fff" stroke-width="2.2" paint-order="stroke"/>
<polygon points="453.0,276.1 450.7,280.4 455.3,280.4" fill="#111" stroke="#fff" stroke-width="2.2" paint-order="stroke"/>
<polygon points="462.4,278.4 460.1,282.7 464.7,282.7" fill="#111" stroke="#fff" stroke-width="2.2" paint-order="stroke"/>
<polygon points="471.8,279.8 469.5,284.1 474.1,284.1" fill="#111" stroke="#fff" stroke-width="2.2" paint-order="stroke"/>
<polygon points="481.3,277.9 479.0,282.2 483.6,282.2" fill="#111" stroke="#fff" stroke-width="2.2" paint-order="stroke"/>
<polygon points="490.7,280.9 488.4,285.2 493.0,285.2" fill="#111" stroke="#fff" stroke-width="2.2" paint-order="stroke"/>
<polygon points="500.1,278.4 497.8,282.7 502.4,282.7" fill="#111" stroke="#fff" stroke-width="2.2" paint-order="stroke"/>
<rect x="73.3" y="252.1" width="5.8" height="5.8" fill="#111" stroke="#fff" stroke-width="2.0" paint-order="stroke"/>
<rect x="82.7" y="257.6" width="5.8" height="5.8" fill="#111" stroke="#fff" stroke-width="2.0" paint-order="stroke"/>
<rect x="92.1" y="250.3" width="5.8" height="5.8" fill="#111" stroke="#fff" stroke-width="2.0" paint-order="stroke"/>
<rect x="101.6" y="257.6" width="5.8" height="5.8" fill="#111" stroke="#fff" stroke-width="2.0" paint-order="stroke"/>
<rect x="111.0" y="253.8" width="5.8" height="5.8" fill="#111" stroke="#fff" stroke-width="2.0" paint-order="stroke"/>
<rect x="120.4" y="252.1" width="5.8" height="5.8" fill="#111" stroke="#fff" stroke-width="2.0" paint-order="stroke"/>
<rect x="129.8" y="253.8" width="5.8" height="5.8" fill="#111" stroke="#fff" stroke-width="2.0" paint-order="stroke"/>
<rect x="139.2" y="249.1" width="5.8" height="5.8" fill="#111" stroke="#fff" stroke-width="2.0" paint-order="stroke"/>
<rect x="148.7" y="250.3" width="5.8" height="5.8" fill="#111" stroke="#fff" stroke-width="2.0" paint-order="stroke"/>
<rect x="158.1" y="250.8" width="5.8" height="5.8" fill="#111" stroke="#fff" stroke-width="2.0" paint-order="stroke"/>
<rect x="167.5" y="249.1" width="5.8" height="5.8" fill="#111" stroke="#fff" stroke-width="2.0" paint-order="stroke"/>
<rect x="176.9" y="246.9" width="5.8" height="5.8" fill="#111" stroke="#fff" stroke-width="2.0" paint-order="stroke"/>
<rect x="186.3" y="246.8" width="5.8" height="5.8" fill="#111" stroke="#fff" stroke-width="2.0" paint-order="stroke"/>
<rect x="195.8" y="244.1" width="5.8" height="5.8" fill="#111" stroke="#fff" stroke-width="2.0" paint-order="stroke"/>
<rect x="205.2" y="250.1" width="5.8" height="5.8" fill="#111" stroke="#fff" stroke-width="2.0" paint-order="stroke"/>
<rect x="214.6" y="244.1" width="5.8" height="5.8" fill="#111" stroke="#fff" stroke-width="2.0" paint-order="stroke"/>
<rect x="224.0" y="248.3" width="5.8" height="5.8" fill="#111" stroke="#fff" stroke-width="2.0" paint-order="stroke"/>
<rect x="233.4" y="248.3" width="5.8" height="5.8" fill="#111" stroke="#fff" stroke-width="2.0" paint-order="stroke"/>
<rect x="242.9" y="245.3" width="5.8" height="5.8" fill="#111" stroke="#fff" stroke-width="2.0" paint-order="stroke"/>
<rect x="252.3" y="246.6" width="5.8" height="5.8" fill="#111" stroke="#fff" stroke-width="2.0" paint-order="stroke"/>
<rect x="261.7" y="246.6" width="5.8" height="5.8" fill="#111" stroke="#fff" stroke-width="2.0" paint-order="stroke"/>
<rect x="271.1" y="248.3" width="5.8" height="5.8" fill="#111" stroke="#fff" stroke-width="2.0" paint-order="stroke"/>
<rect x="280.5" y="246.6" width="5.8" height="5.8" fill="#111" stroke="#fff" stroke-width="2.0" paint-order="stroke"/>
<rect x="290.0" y="246.6" width="5.8" height="5.8" fill="#111" stroke="#fff" stroke-width="2.0" paint-order="stroke"/>
<rect x="299.4" y="247.1" width="5.8" height="5.8" fill="#111" stroke="#fff" stroke-width="2.0" paint-order="stroke"/>
<rect x="308.8" y="248.6" width="5.8" height="5.8" fill="#111" stroke="#fff" stroke-width="2.0" paint-order="stroke"/>
<rect x="318.2" y="249.1" width="5.8" height="5.8" fill="#111" stroke="#fff" stroke-width="2.0" paint-order="stroke"/>
<rect x="327.6" y="249.1" width="5.8" height="5.8" fill="#111" stroke="#fff" stroke-width="2.0" paint-order="stroke"/>
<rect x="337.1" y="246.6" width="5.8" height="5.8" fill="#111" stroke="#fff" stroke-width="2.0" paint-order="stroke"/>
<rect x="346.5" y="249.1" width="5.8" height="5.8" fill="#111" stroke="#fff" stroke-width="2.0" paint-order="stroke"/>
<rect x="355.9" y="249.1" width="5.8" height="5.8" fill="#111" stroke="#fff" stroke-width="2.0" paint-order="stroke"/>
<rect x="365.3" y="249.1" width="5.8" height="5.8" fill="#111" stroke="#fff" stroke-width="2.0" paint-order="stroke"/>
<rect x="374.7" y="249.1" width="5.8" height="5.8" fill="#111" stroke="#fff" stroke-width="2.0" paint-order="stroke"/>
<rect x="384.2" y="250.8" width="5.8" height="5.8" fill="#111" stroke="#fff" stroke-width="2.0" paint-order="stroke"/>
<rect x="393.6" y="249.1" width="5.8" height="5.8" fill="#111" stroke="#fff" stroke-width="2.0" paint-order="stroke"/>
<rect x="403.0" y="252.3" width="5.8" height="5.8" fill="#111" stroke="#fff" stroke-width="2.0" paint-order="stroke"/>
<rect x="412.4" y="250.5" width="5.8" height="5.8" fill="#111" stroke="#fff" stroke-width="2.0" paint-order="stroke"/>
<rect x="421.8" y="250.5" width="5.8" height="5.8" fill="#111" stroke="#fff" stroke-width="2.0" paint-order="stroke"/>
<rect x="431.3" y="252.6" width="5.8" height="5.8" fill="#111" stroke="#fff" stroke-width="2.0" paint-order="stroke"/>
<rect x="440.7" y="252.6" width="5.8" height="5.8" fill="#111" stroke="#fff" stroke-width="2.0" paint-order="stroke"/>
<rect x="450.1" y="248.7" width="5.8" height="5.8" fill="#111" stroke="#fff" stroke-width="2.0" paint-order="stroke"/>
<rect x="459.5" y="250.3" width="5.8" height="5.8" fill="#111" stroke="#fff" stroke-width="2.0" paint-order="stroke"/>
<rect x="468.9" y="252.6" width="5.8" height="5.8" fill="#111" stroke="#fff" stroke-width="2.0" paint-order="stroke"/>
<rect x="478.4" y="252.6" width="5.8" height="5.8" fill="#111" stroke="#fff" stroke-width="2.0" paint-order="stroke"/>
<rect x="487.8" y="252.6" width="5.8" height="5.8" fill="#111" stroke="#fff" stroke-width="2.0" paint-order="stroke"/>
<rect x="497.2" y="250.3" width="5.8" height="5.8" fill="#111" stroke="#fff" stroke-width="2.0" paint-order="stroke"/>
<text transform="translate(210.7 54.6) scale(1 1.0)" font-size="19.0" text-anchor="start" textLength="68.3" lengthAdjust="spacing">A23187</text>
<text transform="translate(211.5 112.6) scale(1 1.0)" font-size="19.0" text-anchor="start" textLength="42.6" lengthAdjust="spacing">GRA</text>
<text transform="translate(222.3 173.3) scale(1 1.0)" font-size="19.0" text-anchor="start" textLength="73" lengthAdjust="spacing">p21-IRS</text>
<text transform="translate(223.5 208.8) scale(1 1.0)" font-size="19.0" text-anchor="start" textLength="67.6" lengthAdjust="spacing">medium</text>
<text transform="translate(222.3 241.3) scale(1 1.0)" font-size="19.0" text-anchor="start" textLength="139.4" lengthAdjust="spacing">p21-IRS+EGTA</text>
<text transform="translate(226.0 297.7) scale(1 1.0)" font-size="19.0" text-anchor="start" textLength="53.6" lengthAdjust="spacing">EGTA</text>
</g>
<g id="B">
<path d="M61.3,704.6 V441.6 H518.9 V734.6 H61.3 V719.2" fill="none" stroke="#111" stroke-width="1.9" stroke-linejoin="miter"/>
<line x1="51.5" y1="714.6" x2="68.0" y2="699.2" stroke="#111" stroke-width="1.9"/>
<line x1="54.2" y1="724.6" x2="70.5" y2="709.2" stroke="#111" stroke-width="1.9"/>
<line x1="61.3" y1="483.2" x2="68.0" y2="483.2" stroke="#111" stroke-width="1.5"/>
<line x1="61.3" y1="526.2" x2="68.0" y2="526.2" stroke="#111" stroke-width="1.5"/>
<line x1="61.3" y1="567.3" x2="68.0" y2="567.3" stroke="#111" stroke-width="1.5"/>
<line x1="61.3" y1="609.2" x2="68.0" y2="609.2" stroke="#111" stroke-width="1.5"/>
<line x1="61.3" y1="651.7" x2="68.0" y2="651.7" stroke="#111" stroke-width="1.5"/>
<line x1="61.3" y1="693.4" x2="68.0" y2="693.4" stroke="#111" stroke-width="1.5"/>
<line x1="129.2" y1="734.6" x2="129.2" y2="740.0" stroke="#111" stroke-width="1.7"/>
<line x1="197.3" y1="734.6" x2="197.3" y2="740.0" stroke="#111" stroke-width="1.7"/>
<line x1="265.0" y1="734.6" x2="265.0" y2="740.0" stroke="#111" stroke-width="1.7"/>
<line x1="332.7" y1="734.6" x2="332.7" y2="740.0" stroke="#111" stroke-width="1.7"/>
<line x1="400.3" y1="734.6" x2="400.3" y2="740.0" stroke="#111" stroke-width="1.7"/>
<line x1="468.3" y1="734.6" x2="468.3" y2="740.0" stroke="#111" stroke-width="1.7"/>
<text transform="translate(54.0 490.0) scale(1 1.04)" font-size="19.6" text-anchor="end">40</text>
<text transform="translate(54.0 533.5) scale(1 1.04)" font-size="19.6" text-anchor="end">35</text>
<text transform="translate(54.0 576.0) scale(1 1.04)" font-size="19.6" text-anchor="end">30</text>
<text transform="translate(54.0 617.5) scale(1 1.04)" font-size="19.6" text-anchor="end">25</text>
<text transform="translate(54.0 660.4) scale(1 1.04)" font-size="19.6" text-anchor="end">20</text>
<text transform="translate(54.0 702.6) scale(1 1.04)" font-size="19.6" text-anchor="end">15</text>
<text transform="translate(54.0 742.4) scale(1 1.04)" font-size="19.6" text-anchor="end">0</text>
<text transform="translate(62.7 760.6) scale(1 1.04)" font-size="19.6" text-anchor="middle">0</text>
<text transform="translate(130.3 760.6) scale(1 1.04)" font-size="19.6" text-anchor="middle">10</text>
<text transform="translate(197.3 760.6) scale(1 1.04)" font-size="19.6" text-anchor="middle">20</text>
<text transform="translate(265.0 760.6) scale(1 1.04)" font-size="19.6" text-anchor="middle">30</text>
<text transform="translate(332.7 760.6) scale(1 1.04)" font-size="19.6" text-anchor="middle">40</text>
<text transform="translate(400.3 760.6) scale(1 1.04)" font-size="19.6" text-anchor="middle">50</text>
<text transform="translate(468.3 760.6) scale(1 1.04)" font-size="19.6" text-anchor="middle">60</text>
<text transform="translate(296.8 786.5) scale(1 1.04)" font-size="19.6" text-anchor="middle" textLength="95.4" lengthAdjust="spacing">Time (min)</text>
<text transform="translate(20.5 681.0) rotate(-90) scale(1 1.04)" font-size="19.6" text-anchor="start" textLength="205.6" lengthAdjust="spacing">Fluorescence (605 nm)</text>
<text transform="translate(6.6 462.4) scale(1 1.0)" font-size="30" text-anchor="start" font-weight="bold">B</text>
<polyline points="61.5,537.8 75.1,537.7 88.6,534.5 102.2,533.4 115.7,542.2 129.3,547.5 142.9,550.3 156.4,548.5 170.0,561.2 183.5,547.2 197.1,548.2 210.7,560.0 224.2,550.0 237.8,558.7 251.3,549.2 264.9,560.0 278.5,558.0 292.0,551.7 305.6,558.1 319.1,566.2 332.7,561.2 346.3,562.5 359.8,571.2 373.4,562.0 386.9,569.5 400.5,566.3 414.1,563.4 427.6,567.0 441.2,565.9 454.7,568.9 468.3,578.1 481.9,576.5" fill="none" stroke="#111" stroke-width="3.9" stroke-linejoin="miter" stroke-linecap="round"/>
<polyline points="61.5,537.8 75.1,478.7 88.6,480.0 102.2,488.0 115.7,483.7 129.3,492.0 142.9,493.2 156.4,491.7 170.0,497.0 183.5,498.2 197.1,498.2 210.7,499.5 224.2,490.0 237.8,493.0 251.3,503.0 264.9,505.0 278.5,489.2 292.0,501.7 305.6,501.7 319.1,504.2 332.7,503.0 346.3,496.2 359.8,508.7 373.4,498.0 386.9,501.7 400.5,502.6 414.1,500.4 427.6,506.4 441.2,504.6 454.7,505.8 468.3,513.9 481.9,510.8" fill="none" stroke="#111" stroke-width="1.9" stroke-linejoin="round" stroke-linecap="butt"/>
<polyline points="61.5,537.8 75.1,548.9 88.6,561.0 102.2,564.2 115.7,576.2 129.3,588.0 142.9,594.5 156.4,593.2 170.0,589.5 183.5,592.3 197.1,600.0 210.7,600.0 224.2,592.0 237.8,590.7 251.3,601.2 264.9,606.7 278.5,589.5 292.0,604.2 305.6,597.4 319.1,592.5 332.7,600.0 346.3,596.2 359.8,600.5 373.4,594.5 386.9,591.7 400.5,597.0 414.1,590.2 427.6,595.0 441.2,588.0 454.7,592.4 468.3,586.9 481.9,588.0" fill="none" stroke="#111" stroke-width="1.8" stroke-linejoin="round" stroke-linecap="butt"/>
<polyline points="61.5,537.8 75.1,548.4 88.6,539.2 102.2,555.0 115.7,542.0 129.3,548.7 142.9,551.4 156.4,570.5 170.0,561.2 183.5,553.7 197.1,553.7 210.7,547.5 224.2,547.5 237.8,529.5 251.3,541.2 264.9,538.7 278.5,529.2 292.0,533.0 305.6,522.5 319.1,521.2 332.7,529.5 346.3,522.5 359.8,519.5 373.4,516.2 386.9,513.7 400.5,512.0 414.1,503.4 427.6,509.4 441.2,499.9 454.7,496.9 468.3,504.0 481.9,494.6" fill="none" stroke="#111" stroke-width="1.8" stroke-linejoin="round" stroke-linecap="butt" stroke-dasharray="7 1.3 1.6 1.3"/>
<polyline points="61.5,537.8 75.1,599.2" fill="none" stroke="#111" stroke-width="1.7" stroke-linejoin="round" stroke-linecap="butt"/>
<polyline points="75.1,599.2 88.6,607.0 102.2,612.5 115.7,616.7 129.3,619.2 142.9,620.5 156.4,632.5 170.0,632.5 183.5,627.3 197.1,636.2 210.7,632.5 224.2,633.7 237.8,642.0 251.3,642.0 264.9,647.5 278.5,638.2 292.0,644.5 305.6,652.5 319.1,646.2 332.7,653.7 346.3,647.5 359.8,652.0 373.4,650.3 386.9,662.2 400.5,662.2 414.1,655.2 427.6,658.7 441.2,665.5 454.7,657.4 468.3,659.3 481.9,662.3" fill="none" stroke="#111" stroke-width="1.7" stroke-linejoin="round" stroke-linecap="butt" stroke-dasharray="8 0.9 1.8 0.9"/>
<polyline points="61.5,537.8 75.1,632.0" fill="none" stroke="#111" stroke-width="1.7" stroke-linejoin="round" stroke-linecap="butt"/>
<polyline points="75.1,632.0 88.6,650.7 102.2,640.0 115.7,646.7 129.3,645.5 142.9,649.5 156.4,652.5 170.0,648.0 183.5,648.0 197.1,657.0 210.7,653.7 224.2,657.2 237.8,653.7 251.3,658.4 264.9,661.2 278.5,652.5 292.0,661.2 305.6,654.1 319.1,661.2 332.7,662.5 346.3,658.7 359.8,665.5 373.4,669.5 386.9,664.5 400.5,669.3 414.1,673.6 427.6,676.0 441.2,673.6 454.7,665.5 468.3,678.9 481.9,672.0" fill="none" stroke="#111" stroke-width="1.8" stroke-linejoin="round" stroke-linecap="butt" stroke-dasharray="7 0.9"/>
<polygon points="75.1,475.9 72.0,481.8 78.2,481.8" fill="#fff" stroke="#111" stroke-width="1.7" stroke-linejoin="miter"/>
<polygon points="88.6,477.2 85.5,483.1 91.7,483.1" fill="#fff" stroke="#111" stroke-width="1.7" stroke-linejoin="miter"/>
<polygon points="102.2,485.2 99.1,491.1 105.3,491.1" fill="#fff" stroke="#111" stroke-width="1.7" stroke-linejoin="miter"/>
<polygon points="115.7,480.9 112.6,486.8 118.8,486.8" fill="#fff" stroke="#111" stroke-width="1.7" stroke-linejoin="miter"/>
<polygon points="129.3,489.2 126.2,495.1 132.4,495.1" fill="#fff" stroke="#111" stroke-width="1.7" stroke-linejoin="miter"/>
<polygon points="142.9,490.4 139.8,496.3 146.0,496.3" fill="#fff" stroke="#111" stroke-width="1.7" stroke-linejoin="miter"/>
<polygon points="156.4,488.9 153.3,494.8 159.5,494.8" fill="#fff" stroke="#111" stroke-width="1.7" stroke-linejoin="miter"/>
<polygon points="170.0,494.2 166.9,500.1 173.1,500.1" fill="#fff" stroke="#111" stroke-width="1.7" stroke-linejoin="miter"/>
<polygon points="183.5,495.4 180.4,501.3 186.6,501.3" fill="#fff" stroke="#111" stroke-width="1.7" stroke-linejoin="miter"/>
<polygon points="197.1,495.4 194.0,501.3 200.2,501.3" fill="#fff" stroke="#111" stroke-width="1.7" stroke-linejoin="miter"/>
<polygon points="210.7,496.7 207.6,502.6 213.8,502.6" fill="#fff" stroke="#111" stroke-width="1.7" stroke-linejoin="miter"/>
<polygon points="224.2,487.2 221.1,493.1 227.3,493.1" fill="#fff" stroke="#111" stroke-width="1.7" stroke-linejoin="miter"/>
<polygon points="237.8,490.2 234.7,496.1 240.9,496.1" fill="#fff" stroke="#111" stroke-width="1.7" stroke-linejoin="miter"/>
<polygon points="251.3,500.2 248.2,506.1 254.4,506.1" fill="#fff" stroke="#111" stroke-width="1.7" stroke-linejoin="miter"/>
<polygon points="264.9,502.2 261.8,508.1 268.0,508.1" fill="#fff" stroke="#111" stroke-width="1.7" stroke-linejoin="miter"/>
<polygon points="278.5,486.4 275.4,492.3 281.6,492.3" fill="#fff" stroke="#111" stroke-width="1.7" stroke-linejoin="miter"/>
<polygon points="292.0,498.9 288.9,504.8 295.1,504.8" fill="#fff" stroke="#111" stroke-width="1.7" stroke-linejoin="miter"/>
<polygon points="305.6,498.9 302.5,504.8 308.7,504.8" fill="#fff" stroke="#111" stroke-width="1.7" stroke-linejoin="miter"/>
<polygon points="319.1,501.4 316.0,507.3 322.2,507.3" fill="#fff" stroke="#111" stroke-width="1.7" stroke-linejoin="miter"/>
<polygon points="332.7,500.2 329.6,506.1 335.8,506.1" fill="#fff" stroke="#111" stroke-width="1.7" stroke-linejoin="miter"/>
<polygon points="346.3,493.4 343.2,499.3 349.4,499.3" fill="#fff" stroke="#111" stroke-width="1.7" stroke-linejoin="miter"/>
<polygon points="359.8,505.9 356.7,511.8 362.9,511.8" fill="#fff" stroke="#111" stroke-width="1.7" stroke-linejoin="miter"/>
<polygon points="373.4,495.2 370.3,501.1 376.5,501.1" fill="#fff" stroke="#111" stroke-width="1.7" stroke-linejoin="miter"/>
<polygon points="386.9,498.9 383.8,504.8 390.0,504.8" fill="#fff" stroke="#111" stroke-width="1.7" stroke-linejoin="miter"/>
<polygon points="400.5,499.8 397.4,505.7 403.6,505.7" fill="#fff" stroke="#111" stroke-width="1.7" stroke-linejoin="miter"/>
<polygon points="414.1,497.6 411.0,503.5 417.2,503.5" fill="#fff" stroke="#111" stroke-width="1.7" stroke-linejoin="miter"/>
<polygon points="427.6,503.6 424.5,509.5 430.7,509.5" fill="#fff" stroke="#111" stroke-width="1.7" stroke-linejoin="miter"/>
<polygon points="441.2,501.8 438.1,507.7 444.3,507.7" fill="#fff" stroke="#111" stroke-width="1.7" stroke-linejoin="miter"/>
<polygon points="454.7,503.0 451.6,508.9 457.8,508.9" fill="#fff" stroke="#111" stroke-width="1.7" stroke-linejoin="miter"/>
<polygon points="468.3,511.1 465.2,517.0 471.4,517.0" fill="#fff" stroke="#111" stroke-width="1.7" stroke-linejoin="miter"/>
<polygon points="481.9,508.0 478.8,513.9 485.0,513.9" fill="#fff" stroke="#111" stroke-width="1.7" stroke-linejoin="miter"/>
<rect x="71.8" y="545.6" width="6.6" height="6.6" fill="#fff" stroke="#111" stroke-width="1.8"/>
<rect x="85.3" y="557.7" width="6.6" height="6.6" fill="#fff" stroke="#111" stroke-width="1.8"/>
<rect x="98.9" y="560.9" width="6.6" height="6.6" fill="#fff" stroke="#111" stroke-width="1.8"/>
<rect x="112.4" y="572.9" width="6.6" height="6.6" fill="#fff" stroke="#111" stroke-width="1.8"/>
<rect x="126.0" y="584.7" width="6.6" height="6.6" fill="#fff" stroke="#111" stroke-width="1.8"/>
<rect x="139.6" y="591.2" width="6.6" height="6.6" fill="#fff" stroke="#111" stroke-width="1.8"/>
<rect x="153.1" y="589.9" width="6.6" height="6.6" fill="#fff" stroke="#111" stroke-width="1.8"/>
<rect x="166.7" y="586.2" width="6.6" height="6.6" fill="#fff" stroke="#111" stroke-width="1.8"/>
<rect x="180.2" y="589.0" width="6.6" height="6.6" fill="#fff" stroke="#111" stroke-width="1.8"/>
<rect x="193.8" y="596.7" width="6.6" height="6.6" fill="#fff" stroke="#111" stroke-width="1.8"/>
<rect x="207.4" y="596.7" width="6.6" height="6.6" fill="#fff" stroke="#111" stroke-width="1.8"/>
<rect x="220.9" y="588.7" width="6.6" height="6.6" fill="#fff" stroke="#111" stroke-width="1.8"/>
<rect x="234.5" y="587.4" width="6.6" height="6.6" fill="#fff" stroke="#111" stroke-width="1.8"/>
<rect x="248.0" y="597.9" width="6.6" height="6.6" fill="#fff" stroke="#111" stroke-width="1.8"/>
<rect x="261.6" y="603.4" width="6.6" height="6.6" fill="#fff" stroke="#111" stroke-width="1.8"/>
<rect x="275.2" y="586.2" width="6.6" height="6.6" fill="#fff" stroke="#111" stroke-width="1.8"/>
<rect x="288.7" y="600.9" width="6.6" height="6.6" fill="#fff" stroke="#111" stroke-width="1.8"/>
<rect x="302.3" y="594.1" width="6.6" height="6.6" fill="#fff" stroke="#111" stroke-width="1.8"/>
<rect x="315.8" y="589.2" width="6.6" height="6.6" fill="#fff" stroke="#111" stroke-width="1.8"/>
<rect x="329.4" y="596.7" width="6.6" height="6.6" fill="#fff" stroke="#111" stroke-width="1.8"/>
<rect x="343.0" y="592.9" width="6.6" height="6.6" fill="#fff" stroke="#111" stroke-width="1.8"/>
<rect x="356.5" y="597.2" width="6.6" height="6.6" fill="#fff" stroke="#111" stroke-width="1.8"/>
<rect x="370.1" y="591.2" width="6.6" height="6.6" fill="#fff" stroke="#111" stroke-width="1.8"/>
<rect x="383.6" y="588.4" width="6.6" height="6.6" fill="#fff" stroke="#111" stroke-width="1.8"/>
<rect x="397.2" y="593.7" width="6.6" height="6.6" fill="#fff" stroke="#111" stroke-width="1.8"/>
<rect x="410.8" y="586.9" width="6.6" height="6.6" fill="#fff" stroke="#111" stroke-width="1.8"/>
<rect x="424.3" y="591.7" width="6.6" height="6.6" fill="#fff" stroke="#111" stroke-width="1.8"/>
<rect x="437.9" y="584.7" width="6.6" height="6.6" fill="#fff" stroke="#111" stroke-width="1.8"/>
<rect x="451.4" y="589.1" width="6.6" height="6.6" fill="#fff" stroke="#111" stroke-width="1.8"/>
<rect x="465.0" y="583.6" width="6.6" height="6.6" fill="#fff" stroke="#111" stroke-width="1.8"/>
<rect x="478.6" y="584.7" width="6.6" height="6.6" fill="#fff" stroke="#111" stroke-width="1.8"/>
<polygon points="75.1,545.9 77.6,548.4 75.1,550.9 72.6,548.4" fill="#111" stroke="#fff" stroke-width="1.4" paint-order="stroke"/>
<polygon points="88.6,536.7 91.1,539.2 88.6,541.7 86.1,539.2" fill="#111" stroke="#fff" stroke-width="1.4" paint-order="stroke"/>
<polygon points="102.2,552.5 104.7,555.0 102.2,557.5 99.7,555.0" fill="#111" stroke="#fff" stroke-width="1.4" paint-order="stroke"/>
<polygon points="115.7,539.5 118.2,542.0 115.7,544.5 113.2,542.0" fill="#111" stroke="#fff" stroke-width="1.4" paint-order="stroke"/>
<polygon points="129.3,546.2 131.8,548.7 129.3,551.2 126.8,548.7" fill="#111" stroke="#fff" stroke-width="1.4" paint-order="stroke"/>
<polygon points="142.9,548.9 145.4,551.4 142.9,553.9 140.4,551.4" fill="#111" stroke="#fff" stroke-width="1.4" paint-order="stroke"/>
<polygon points="156.4,568.0 158.9,570.5 156.4,573.0 153.9,570.5" fill="#111" stroke="#fff" stroke-width="1.4" paint-order="stroke"/>
<polygon points="170.0,558.7 172.5,561.2 170.0,563.7 167.5,561.2" fill="#111" stroke="#fff" stroke-width="1.4" paint-order="stroke"/>
<polygon points="183.5,551.2 186.0,553.7 183.5,556.2 181.0,553.7" fill="#111" stroke="#fff" stroke-width="1.4" paint-order="stroke"/>
<polygon points="197.1,551.2 199.6,553.7 197.1,556.2 194.6,553.7" fill="#111" stroke="#fff" stroke-width="1.4" paint-order="stroke"/>
<polygon points="210.7,545.0 213.2,547.5 210.7,550.0 208.2,547.5" fill="#111" stroke="#fff" stroke-width="1.4" paint-order="stroke"/>
<polygon points="224.2,545.0 226.7,547.5 224.2,550.0 221.7,547.5" fill="#111" stroke="#fff" stroke-width="1.4" paint-order="stroke"/>
<polygon points="237.8,527.0 240.3,529.5 237.8,532.0 235.3,529.5" fill="#111" stroke="#fff" stroke-width="1.4" paint-order="stroke"/>
<polygon points="251.3,538.7 253.8,541.2 251.3,543.7 248.8,541.2" fill="#111" stroke="#fff" stroke-width="1.4" paint-order="stroke"/>
<polygon points="264.9,536.2 267.4,538.7 264.9,541.2 262.4,538.7" fill="#111" stroke="#fff" stroke-width="1.4" paint-order="stroke"/>
<polygon points="278.5,526.7 281.0,529.2 278.5,531.7 276.0,529.2" fill="#111" stroke="#fff" stroke-width="1.4" paint-order="stroke"/>
<polygon points="292.0,530.5 294.5,533.0 292.0,535.5 289.5,533.0" fill="#111" stroke="#fff" stroke-width="1.4" paint-order="stroke"/>
<polygon points="305.6,520.0 308.1,522.5 305.6,525.0 303.1,522.5" fill="#111" stroke="#fff" stroke-width="1.4" paint-order="stroke"/>
<polygon points="319.1,518.7 321.6,521.2 319.1,523.7 316.6,521.2" fill="#111" stroke="#fff" stroke-width="1.4" paint-order="stroke"/>
<polygon points="332.7,527.0 335.2,529.5 332.7,532.0 330.2,529.5" fill="#111" stroke="#fff" stroke-width="1.4" paint-order="stroke"/>
<polygon points="346.3,520.0 348.8,522.5 346.3,525.0 343.8,522.5" fill="#111" stroke="#fff" stroke-width="1.4" paint-order="stroke"/>
<polygon points="359.8,517.0 362.3,519.5 359.8,522.0 357.3,519.5" fill="#111" stroke="#fff" stroke-width="1.4" paint-order="stroke"/>
<polygon points="373.4,513.7 375.9,516.2 373.4,518.7 370.9,516.2" fill="#111" stroke="#fff" stroke-width="1.4" paint-order="stroke"/>
<polygon points="386.9,511.2 389.4,513.7 386.9,516.2 384.4,513.7" fill="#111" stroke="#fff" stroke-width="1.4" paint-order="stroke"/>
<polygon points="400.5,509.5 403.0,512.0 400.5,514.5 398.0,512.0" fill="#111" stroke="#fff" stroke-width="1.4" paint-order="stroke"/>
<polygon points="414.1,500.9 416.6,503.4 414.1,505.9 411.6,503.4" fill="#111" stroke="#fff" stroke-width="1.4" paint-order="stroke"/>
<polygon points="427.6,506.9 430.1,509.4 427.6,511.9 425.1,509.4" fill="#111" stroke="#fff" stroke-width="1.4" paint-order="stroke"/>
<polygon points="441.2,497.4 443.7,499.9 441.2,502.4 438.7,499.9" fill="#111" stroke="#fff" stroke-width="1.4" paint-order="stroke"/>
<polygon points="454.7,494.4 457.2,496.9 454.7,499.4 452.2,496.9" fill="#111" stroke="#fff" stroke-width="1.4" paint-order="stroke"/>
<polygon points="468.3,501.5 470.8,504.0 468.3,506.5 465.8,504.0" fill="#111" stroke="#fff" stroke-width="1.4" paint-order="stroke"/>
<polygon points="481.9,492.1 484.4,494.6 481.9,497.1 479.4,494.6" fill="#111" stroke="#fff" stroke-width="1.4" paint-order="stroke"/>
<polygon points="75.1,596.4 72.6,601.2 77.6,601.2" fill="#111" stroke="#fff" stroke-width="1.0" paint-order="stroke"/>
<polygon points="88.6,604.2 86.1,609.0 91.1,609.0" fill="#111" stroke="#fff" stroke-width="1.0" paint-order="stroke"/>
<polygon points="102.2,609.7 99.7,614.5 104.7,614.5" fill="#111" stroke="#fff" stroke-width="1.0" paint-order="stroke"/>
<polygon points="115.7,613.9 113.2,618.7 118.2,618.7" fill="#111" stroke="#fff" stroke-width="1.0" paint-order="stroke"/>
<polygon points="129.3,616.4 126.8,621.2 131.8,621.2" fill="#111" stroke="#fff" stroke-width="1.0" paint-order="stroke"/>
<polygon points="142.9,617.7 140.4,622.5 145.4,622.5" fill="#111" stroke="#fff" stroke-width="1.0" paint-order="stroke"/>
<polygon points="156.4,629.7 153.9,634.5 158.9,634.5" fill="#111" stroke="#fff" stroke-width="1.0" paint-order="stroke"/>
<polygon points="170.0,629.7 167.5,634.5 172.5,634.5" fill="#111" stroke="#fff" stroke-width="1.0" paint-order="stroke"/>
<polygon points="183.5,624.5 181.0,629.3 186.0,629.3" fill="#111" stroke="#fff" stroke-width="1.0" paint-order="stroke"/>
<polygon points="197.1,633.4 194.6,638.2 199.6,638.2" fill="#111" stroke="#fff" stroke-width="1.0" paint-order="stroke"/>
<polygon points="210.7,629.7 208.2,634.5 213.2,634.5" fill="#111" stroke="#fff" stroke-width="1.0" paint-order="stroke"/>
<polygon points="224.2,630.9 221.7,635.7 226.7,635.7" fill="#111" stroke="#fff" stroke-width="1.0" paint-order="stroke"/>
<polygon points="237.8,639.2 235.3,644.0 240.3,644.0" fill="#111" stroke="#fff" stroke-width="1.0" paint-order="stroke"/>
<polygon points="251.3,639.2 248.8,644.0 253.8,644.0" fill="#111" stroke="#fff" stroke-width="1.0" paint-order="stroke"/>
<polygon points="264.9,644.7 262.4,649.5 267.4,649.5" fill="#111" stroke="#fff" stroke-width="1.0" paint-order="stroke"/>
<polygon points="278.5,635.4 276.0,640.2 281.0,640.2" fill="#111" stroke="#fff" stroke-width="1.0" paint-order="stroke"/>
<polygon points="292.0,641.7 289.5,646.5 294.5,646.5" fill="#111" stroke="#fff" stroke-width="1.0" paint-order="stroke"/>
<polygon points="305.6,649.7 303.1,654.5 308.1,654.5" fill="#111" stroke="#fff" stroke-width="1.0" paint-order="stroke"/>
<polygon points="319.1,643.4 316.6,648.2 321.6,648.2" fill="#111" stroke="#fff" stroke-width="1.0" paint-order="stroke"/>
<polygon points="332.7,650.9 330.2,655.7 335.2,655.7" fill="#111" stroke="#fff" stroke-width="1.0" paint-order="stroke"/>
<polygon points="346.3,644.7 343.8,649.5 348.8,649.5" fill="#111" stroke="#fff" stroke-width="1.0" paint-order="stroke"/>
<polygon points="359.8,649.2 357.3,654.0 362.3,654.0" fill="#111" stroke="#fff" stroke-width="1.0" paint-order="stroke"/>
<polygon points="373.4,647.5 370.9,652.3 375.9,652.3" fill="#111" stroke="#fff" stroke-width="1.0" paint-order="stroke"/>
<polygon points="386.9,659.4 384.4,664.2 389.4,664.2" fill="#111" stroke="#fff" stroke-width="1.0" paint-order="stroke"/>
<polygon points="400.5,659.4 398.0,664.2 403.0,664.2" fill="#111" stroke="#fff" stroke-width="1.0" paint-order="stroke"/>
<polygon points="414.1,652.4 411.6,657.2 416.6,657.2" fill="#111" stroke="#fff" stroke-width="1.0" paint-order="stroke"/>
<polygon points="427.6,655.9 425.1,660.7 430.1,660.7" fill="#111" stroke="#fff" stroke-width="1.0" paint-order="stroke"/>
<polygon points="441.2,662.7 438.7,667.5 443.7,667.5" fill="#111" stroke="#fff" stroke-width="1.0" paint-order="stroke"/>
<polygon points="454.7,654.6 452.2,659.4 457.2,659.4" fill="#111" stroke="#fff" stroke-width="1.0" paint-order="stroke"/>
<polygon points="468.3,656.5 465.8,661.3 470.8,661.3" fill="#111" stroke="#fff" stroke-width="1.0" paint-order="stroke"/>
<polygon points="481.9,659.5 479.4,664.3 484.4,664.3" fill="#111" stroke="#fff" stroke-width="1.0" paint-order="stroke"/>
<rect x="72.6" y="629.5" width="5.0" height="5.0" fill="#111" stroke="#fff" stroke-width="1.0" paint-order="stroke"/>
<rect x="86.1" y="648.2" width="5.0" height="5.0" fill="#111" stroke="#fff" stroke-width="1.0" paint-order="stroke"/>
<rect x="99.7" y="637.5" width="5.0" height="5.0" fill="#111" stroke="#fff" stroke-width="1.0" paint-order="stroke"/>
<rect x="113.2" y="644.2" width="5.0" height="5.0" fill="#111" stroke="#fff" stroke-width="1.0" paint-order="stroke"/>
<rect x="126.8" y="643.0" width="5.0" height="5.0" fill="#111" stroke="#fff" stroke-width="1.0" paint-order="stroke"/>
<rect x="140.4" y="647.0" width="5.0" height="5.0" fill="#111" stroke="#fff" stroke-width="1.0" paint-order="stroke"/>
<rect x="153.9" y="650.0" width="5.0" height="5.0" fill="#111" stroke="#fff" stroke-width="1.0" paint-order="stroke"/>
<rect x="167.5" y="645.5" width="5.0" height="5.0" fill="#111" stroke="#fff" stroke-width="1.0" paint-order="stroke"/>
<rect x="181.0" y="645.5" width="5.0" height="5.0" fill="#111" stroke="#fff" stroke-width="1.0" paint-order="stroke"/>
<rect x="194.6" y="654.5" width="5.0" height="5.0" fill="#111" stroke="#fff" stroke-width="1.0" paint-order="stroke"/>
<rect x="208.2" y="651.2" width="5.0" height="5.0" fill="#111" stroke="#fff" stroke-width="1.0" paint-order="stroke"/>
<rect x="221.7" y="654.7" width="5.0" height="5.0" fill="#111" stroke="#fff" stroke-width="1.0" paint-order="stroke"/>
<rect x="235.3" y="651.2" width="5.0" height="5.0" fill="#111" stroke="#fff" stroke-width="1.0" paint-order="stroke"/>
<rect x="248.8" y="655.9" width="5.0" height="5.0" fill="#111" stroke="#fff" stroke-width="1.0" paint-order="stroke"/>
<rect x="262.4" y="658.7" width="5.0" height="5.0" fill="#111" stroke="#fff" stroke-width="1.0" paint-order="stroke"/>
<rect x="276.0" y="650.0" width="5.0" height="5.0" fill="#111" stroke="#fff" stroke-width="1.0" paint-order="stroke"/>
<rect x="289.5" y="658.7" width="5.0" height="5.0" fill="#111" stroke="#fff" stroke-width="1.0" paint-order="stroke"/>
<rect x="303.1" y="651.6" width="5.0" height="5.0" fill="#111" stroke="#fff" stroke-width="1.0" paint-order="stroke"/>
<rect x="316.6" y="658.7" width="5.0" height="5.0" fill="#111" stroke="#fff" stroke-width="1.0" paint-order="stroke"/>
<rect x="330.2" y="660.0" width="5.0" height="5.0" fill="#111" stroke="#fff" stroke-width="1.0" paint-order="stroke"/>
<rect x="343.8" y="656.2" width="5.0" height="5.0" fill="#111" stroke="#fff" stroke-width="1.0" paint-order="stroke"/>
<rect x="357.3" y="663.0" width="5.0" height="5.0" fill="#111" stroke="#fff" stroke-width="1.0" paint-order="stroke"/>
<rect x="370.9" y="667.0" width="5.0" height="5.0" fill="#111" stroke="#fff" stroke-width="1.0" paint-order="stroke"/>
<rect x="384.4" y="662.0" width="5.0" height="5.0" fill="#111" stroke="#fff" stroke-width="1.0" paint-order="stroke"/>
<rect x="398.0" y="666.8" width="5.0" height="5.0" fill="#111" stroke="#fff" stroke-width="1.0" paint-order="stroke"/>
<rect x="411.6" y="671.1" width="5.0" height="5.0" fill="#111" stroke="#fff" stroke-width="1.0" paint-order="stroke"/>
<rect x="425.1" y="673.5" width="5.0" height="5.0" fill="#111" stroke="#fff" stroke-width="1.0" paint-order="stroke"/>
<rect x="438.7" y="671.1" width="5.0" height="5.0" fill="#111" stroke="#fff" stroke-width="1.0" paint-order="stroke"/>
<rect x="452.2" y="663.0" width="5.0" height="5.0" fill="#111" stroke="#fff" stroke-width="1.0" paint-order="stroke"/>
<rect x="465.8" y="676.4" width="5.0" height="5.0" fill="#111" stroke="#fff" stroke-width="1.0" paint-order="stroke"/>
<rect x="479.4" y="669.5" width="5.0" height="5.0" fill="#111" stroke="#fff" stroke-width="1.0" paint-order="stroke"/>
<text transform="translate(370.7 490.7) scale(1 1.0)" font-size="19.0" text-anchor="start" textLength="66.6" lengthAdjust="spacing">A23187</text>
<text transform="translate(373.2 535.5) scale(1 1.0)" font-size="19.0" text-anchor="start" textLength="42.6" lengthAdjust="spacing">GRA</text>
<text transform="translate(373.3 557.8) scale(1 1.0)" font-size="19.0" text-anchor="start" textLength="71.3" lengthAdjust="spacing">medium</text>
<text transform="translate(375.0 618.3) scale(1 1.0)" font-size="19.0" text-anchor="start" textLength="73.3" lengthAdjust="spacing">p21-IRS</text>
<text transform="translate(375.5 646.6) scale(1 1.0)" font-size="19.0" text-anchor="start" textLength="54" lengthAdjust="spacing">EGTA</text>
<text transform="translate(373.7 698.8) scale(1 1.0)" font-size="19.0" text-anchor="start" textLength="137.5" lengthAdjust="spacing">p21-IRS+EGTA</text>
</g>
<defs><pattern id="h" width="5.5" height="7" patternUnits="userSpaceOnUse"><path d="M-0.5,7.64 L6,-0.64 M-6,7.64 L0.5,-0.64 M5,7.64 L11.5,-0.64" stroke="#111" stroke-width="0.9" fill="none"/></pattern></defs>
<g id="C">
<path d="M61.2,1055.9 V825.6 H518 V1055.9 Z" fill="none" stroke="#111" stroke-width="1.7" stroke-linejoin="miter"/>
<line x1="61.2" y1="858.3" x2="67.2" y2="858.3" stroke="#111" stroke-width="1.5"/>
<line x1="61.2" y1="891.3" x2="67.2" y2="891.3" stroke="#111" stroke-width="1.5"/>
<line x1="61.2" y1="924.2" x2="67.2" y2="924.2" stroke="#111" stroke-width="1.5"/>
<line x1="61.2" y1="957.2" x2="67.2" y2="957.2" stroke="#111" stroke-width="1.5"/>
<line x1="61.2" y1="990.0" x2="67.2" y2="990.0" stroke="#111" stroke-width="1.5"/>
<line x1="61.2" y1="1023.0" x2="67.2" y2="1023.0" stroke="#111" stroke-width="1.5"/>
<text transform="translate(51.5 867.0) scale(1 1.04)" font-size="19.6" text-anchor="end">60</text>
<text transform="translate(51.5 900.0) scale(1 1.04)" font-size="19.6" text-anchor="end">50</text>
<text transform="translate(51.5 935.2) scale(1 1.04)" font-size="19.6" text-anchor="end">40</text>
<text transform="translate(51.5 968.5) scale(1 1.04)" font-size="19.6" text-anchor="end">30</text>
<text transform="translate(51.5 998.6) scale(1 1.04)" font-size="19.6" text-anchor="end">20</text>
<text transform="translate(51.5 1032.8) scale(1 1.04)" font-size="19.6" text-anchor="end">10</text>
<text transform="translate(51.5 1063.6) scale(1 1.04)" font-size="19.6" text-anchor="end">0</text>
<text transform="translate(18.3 1014.0) rotate(-90) scale(1 1.04)" font-size="19.6" text-anchor="start" textLength="148.6" lengthAdjust="spacing">% apoptotic cells</text>
<text transform="translate(7.2 843.8) scale(1 1.0)" font-size="30" text-anchor="start" font-weight="bold">C</text>
<rect x="98.6" y="1054.1" width="48.4" height="1.8" fill="#fff" stroke="none"/>
<rect x="98.6" y="1054.1" width="48.4" height="1.8" fill="none" stroke="#111" stroke-width="1.4"/>
<line x1="122.7" y1="1054.1" x2="122.7" y2="1045.4" stroke="#111" stroke-width="1.3"/>
<line x1="117.9" y1="1045.4" x2="128.0" y2="1045.4" stroke="#111" stroke-width="1.4"/>
<rect x="147.0" y="1053.6" width="47.0" height="2.3" fill="#111" stroke="none"/>
<rect x="147.0" y="1053.6" width="47.0" height="2.3" fill="none" stroke="#111" stroke-width="1.4"/>
<line x1="169.7" y1="1053.6" x2="169.7" y2="1051.5" stroke="#111" stroke-width="1.3"/>
<line x1="164.4" y1="1051.5" x2="175.0" y2="1051.5" stroke="#111" stroke-width="1.4"/>
<rect x="194.0" y="1032.2" width="48.3" height="23.7" fill="#fff" stroke="none"/>
<path d="M194.0,1041.1 L202.9,1032.2 M194.0,1049.8 L211.5,1032.2 M196.5,1055.9 L220.2,1032.2 M205.1,1055.9 L228.8,1032.2 M213.8,1055.9 L237.5,1032.2 M222.4,1055.9 L242.3,1036.0 M231.1,1055.9 L242.3,1044.7 M239.7,1055.9 L242.3,1053.3" stroke="#111" stroke-width="1.15" fill="none"/>
<rect x="194.0" y="1032.2" width="48.3" height="23.7" fill="none" stroke="#111" stroke-width="1.4"/>
<line x1="218.2" y1="1032.2" x2="218.2" y2="1027.6" stroke="#111" stroke-width="1.3"/>
<line x1="213.0" y1="1027.6" x2="223.2" y2="1027.6" stroke="#111" stroke-width="1.4"/>
<rect x="315.3" y="876.3" width="47.7" height="179.6" fill="#fff" stroke="none"/>
<rect x="315.3" y="876.3" width="47.7" height="179.6" fill="none" stroke="#111" stroke-width="1.4"/>
<line x1="338.6" y1="876.3" x2="338.6" y2="861.2" stroke="#111" stroke-width="1.3"/>
<line x1="333.2" y1="861.2" x2="344.2" y2="861.2" stroke="#111" stroke-width="1.4"/>
<rect x="363.0" y="958.0" width="46.9" height="97.9" fill="#111" stroke="none"/>
<rect x="363.0" y="958.0" width="46.9" height="97.9" fill="none" stroke="#111" stroke-width="1.4"/>
<line x1="386.0" y1="958.0" x2="386.0" y2="954.2" stroke="#111" stroke-width="1.3"/>
<line x1="380.8" y1="954.2" x2="391.2" y2="954.2" stroke="#111" stroke-width="1.4"/>
<rect x="409.9" y="968.3" width="47.9" height="87.6" fill="#fff" stroke="none"/>
<path d="M409.9,974.6 L416.2,968.3 M409.9,983.3 L424.9,968.3 M409.9,992.0 L433.6,968.3 M409.9,1000.6 L442.2,968.3 M409.9,1009.3 L450.9,968.3 M409.9,1017.9 L457.8,970.0 M409.9,1026.6 L457.8,978.7 M409.9,1035.2 L457.8,987.3 M409.9,1043.8 L457.8,996.0 M409.9,1052.5 L457.8,1004.6 M415.1,1055.9 L457.8,1013.2 M423.8,1055.9 L457.8,1021.9 M432.5,1055.9 L457.8,1030.6 M441.1,1055.9 L457.8,1039.2 M449.8,1055.9 L457.8,1047.9" stroke="#111" stroke-width="1.15" fill="none"/>
<rect x="409.9" y="968.3" width="47.9" height="87.6" fill="none" stroke="#111" stroke-width="1.4"/>
<line x1="433.6" y1="968.3" x2="433.6" y2="964.4" stroke="#111" stroke-width="1.3"/>
<line x1="428.6" y1="964.4" x2="438.6" y2="964.4" stroke="#111" stroke-width="1.4"/>
<text transform="translate(170.6 1082.5) scale(1 1.04)" font-size="19.6" text-anchor="middle" textLength="71.2" lengthAdjust="spacing">medium</text>
<text transform="translate(387.6 1082.2) scale(1 1.04)" font-size="19.6" text-anchor="middle" textLength="73" lengthAdjust="spacing">p21-IRS</text>
</g>
</svg>
</body></html>
